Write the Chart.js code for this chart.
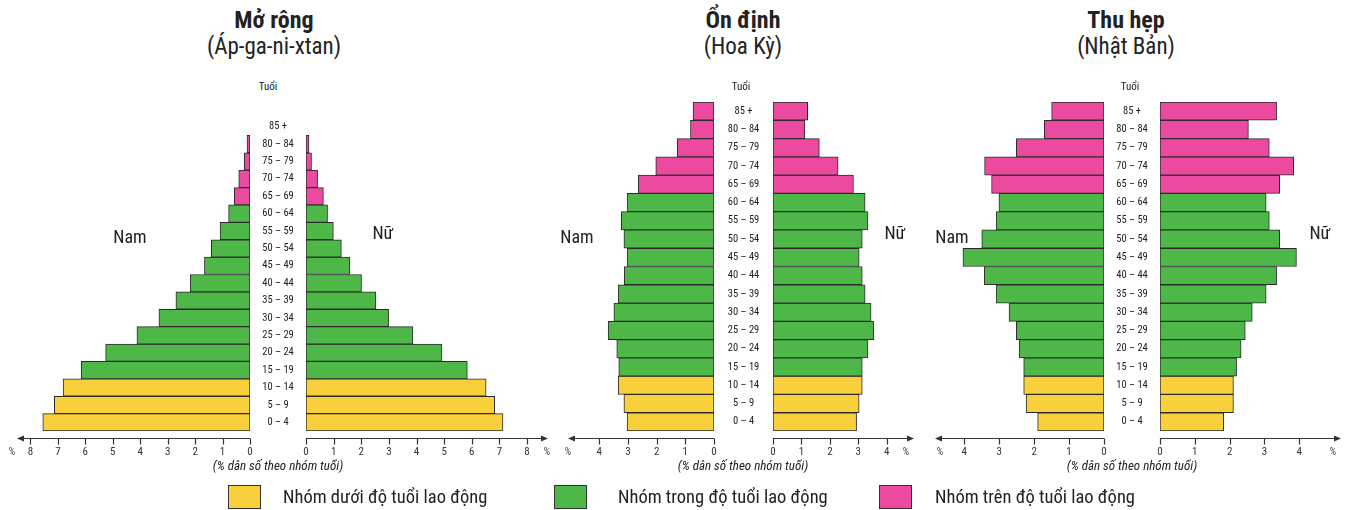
<!DOCTYPE html>
<html>
<head>
<meta charset="utf-8">
<script src="https://cdn.jsdelivr.net/npm/chart.js@4.4.1/dist/chart.umd.min.js"></script>
<style>
  html, body { margin: 0; padding: 0; background: #fff; }
  #wrap { position: relative; width: 1345px; height: 510px; overflow: hidden;
          font-family: 'Liberation Sans Narrow', 'Roboto Condensed', 'DejaVu Sans Condensed', 'Open Sans', sans-serif; color: #222; }
  canvas { position: absolute; }
  .t { position: absolute; white-space: nowrap; transform: translateX(-50%); line-height: 1; }
  .title { font-weight: bold; font-size: 24px; }
  .sub { font-size: 23px; }
  .small { font-size: 11px; }
  .side { font-size: 18px; transform: translate(-50%, -50%); }
  .note { font-size: 13px; font-style: italic; }
  .lbox { position: absolute; width: 33px; height: 24px; border: 1px solid #333; box-sizing: border-box; }
  .ltext { position: absolute; font-size: 18.5px; white-space: nowrap; line-height: 1; }
</style>
</head>
<body>
<div id="wrap"></div>
<script>
// ---------------- DATA ----------------
const ageGroups = ['0 – 4','5 – 9','10 – 14','15 – 19','20 – 24','25 – 29','30 – 34','35 – 39',
  '40 – 44','45 – 49','50 – 54','55 – 59','60 – 64','65 – 69','70 – 74','75 – 79','80 – 84','85 +'];
const groupNames = ['Nhóm dưới độ tuổi lao động','Nhóm trong độ tuổi lao động','Nhóm trên độ tuổi lao động'];
const groupOfAge = [0,0,0,1,1,1,1,1,1,1,1,1,1,2,2,2,2,2];

const pyramidTitles = ['Mở rộng','Ổn định','Thu hẹp'];
const pyramidCountries = ['(Áp-ga-ni-xtan)','(Hoa Kỳ)','(Nhật Bản)'];
const maleLabel = 'Nam';
const femaleLabel = 'Nữ';
const ageAxisTitle = 'Tuổi';
const valueAxisTitle = '(% dân số theo nhóm tuổi)';
const unitLabel = '%';

const afgMale   = [7.55,7.13,6.81,6.15,5.26,4.12,3.32,2.70,2.18,1.66,1.41,1.09,0.78,0.57,0.41,0.21,0.11,0];
const afgFemale = [7.13,6.83,6.52,5.84,4.92,3.87,2.99,2.53,2.01,1.59,1.28,0.99,0.78,0.63,0.42,0.20,0.11,0];
const usaMale   = [3.03,3.14,3.34,3.32,3.39,3.69,3.49,3.34,3.13,3.03,3.14,3.23,3.03,2.64,2.03,1.28,0.82,0.73];
const usaFemale = [2.94,3.03,3.14,3.14,3.34,3.54,3.45,3.24,3.14,3.03,3.14,3.34,3.24,2.83,2.29,1.63,1.12,1.22];
const jpnMale   = [1.90,2.23,2.30,2.30,2.43,2.51,2.72,3.09,3.43,4.04,3.50,3.09,3.01,3.22,3.42,2.51,1.71,1.50];
const jpnFemale = [1.83,2.11,2.11,2.20,2.33,2.45,2.65,3.05,3.35,3.92,3.44,3.14,3.05,3.44,3.84,3.14,2.54,3.35];
const tickMaxes = [8, 4, 4];

// ---------------- STYLE / LAYOUT ----------------
const groupColors = ['#F9CF3C', '#4DB848', '#EC4A9E'];
const borderColor = '#2b2b2b';
const fontFamily = "'Liberation Sans Narrow', 'Roboto Condensed', 'DejaVu Sans Condensed', sans-serif";
const tickFont = { family: fontFamily, size: 11 };
const ageFont = { family: fontFamily, size: 10.5 };

const layouts = [
  { top: 118, bottom: 431, mTip: 17,  mZero: 250,   fZero: 306,   fTip: 548,  mMax: 8.49, fMax: 8.76, mPct: -5, fPct: -1, cx: 274, tuoiX: 268, namX: 130, nuX: 383 },
  { top: 102, bottom: 431, mTip: 568, mZero: 713.5, fZero: 772.5, fTip: 913,  mMax: 5.09, fMax: 4.96, mPct: 0,  fPct: -8, cx: 743, tuoiX: 741, namX: 577, nuX: 895 },
  { top: 102, bottom: 431, mTip: 935, mZero: 1104,  fZero: 1160,  fTip: 1341, mMax: 4.84, fMax: 5.20, mPct: 5,  fPct: -8, cx: 1126, tuoiX: 1130, namX: 952, nuX: 1320 }
];
const seriesPairs = [[afgMale, afgFemale], [usaMale, usaFemale], [jpnMale, jpnFemale]];
const AXIS_H = 45, AXIS_GAP = 7;

const wrap = document.getElementById('wrap');

function addText(cls, text, x, y) {
  const d = document.createElement('div');
  d.className = 't ' + cls;
  d.textContent = text;
  d.style.left = x + 'px';
  d.style.top = y + 'px';
  wrap.appendChild(d);
  return d;
}

// measure widest age label for centering
const mctx = document.createElement('canvas').getContext('2d');
mctx.font = ageFont.size + 'px ' + ageFont.family;
const widestAge = Math.max(...ageGroups.map(s => mctx.measureText(s).width));

const axisDeco = {
  id: 'axisDeco',
  afterDraw(chart, args, o) {
    const xs = chart.scales.x;
    const ctx = chart.ctx;
    const y0 = chart.chartArea.bottom + AXIS_GAP + 0.5;
    const zp = xs.getPixelForValue(0);
    const ep = xs.getPixelForValue(xs.max);
    const dir = Math.sign(ep - zp);
    ctx.save();
    ctx.strokeStyle = '#333';
    ctx.fillStyle = '#333';
    ctx.lineWidth = 1.2;
    ctx.beginPath();
    ctx.moveTo(zp, y0); ctx.lineTo(ep - dir * 4, y0);
    ctx.stroke();
    ctx.beginPath();
    ctx.moveTo(ep, y0); ctx.lineTo(ep - dir * 7, y0 - 3); ctx.lineTo(ep - dir * 7, y0 + 3); ctx.closePath();
    ctx.fill();
    xs.ticks.forEach(t => {
      const px = Math.round(xs.getPixelForValue(t.value)) + 0.5;
      ctx.beginPath(); ctx.moveTo(px, y0); ctx.lineTo(px, y0 + 6); ctx.stroke();
    });
    ctx.font = '10px ' + fontFamily;
    ctx.textAlign = 'center';
    ctx.textBaseline = 'middle';
    ctx.fillStyle = '#444';
    ctx.fillText(unitLabel, ep + o.pct, y0 + 14);
    ctx.restore();
  }
};

function makeHalf(values, side, L, tickMax) {
  const isMale = side === 'm';
  const padL = isMale ? 16 : 10;
  const padR = isMale ? 0 : 16;
  const left = isMale ? L.mTip - padL : L.fZero - padL;
  const right = isMale ? L.fZero : L.fTip + padR;
  const cv = document.createElement('canvas');
  cv.width = Math.round(right - left);
  cv.height = Math.round(L.bottom - L.top + AXIS_H);
  cv.style.left = left + 'px';
  cv.style.top = L.top + 'px';
  cv.style.width = cv.width + 'px';
  cv.style.height = cv.height + 'px';
  wrap.appendChild(cv);
  const gap = L.fZero - L.mZero;
  new Chart(cv, {
    type: 'bar',
    data: {
      labels: ageGroups,
      datasets: [{
        data: values,
        backgroundColor: groupOfAge.map(g => groupColors[g]),
        borderColor: borderColor,
        borderWidth: 1,
        borderSkipped: false,
        barPercentage: 1,
        categoryPercentage: 1
      }]
    },
    options: {
      indexAxis: 'y',
      responsive: false,
      animation: false,
      devicePixelRatio: 1,
      layout: { padding: { left: padL, right: padR, top: 0, bottom: 0 } },
      plugins: { legend: { display: false }, tooltip: { enabled: false }, axisDeco: { pct: isMale ? L.mPct : L.fPct } },
      scales: {
        x: {
          type: 'linear',
          reverse: isMale,
          min: 0,
          max: isMale ? L.mMax : L.fMax,
          grid: { display: false, drawTicks: false, tickLength: 0 },
          border: { display: false },
          ticks: { stepSize: 1, includeBounds: false, padding: 15, font: tickFont, color: '#333', maxRotation: 0, autoSkip: false },
          afterBuildTicks: s => { s.ticks = s.ticks.filter(t => Number.isInteger(t.value) && t.value <= tickMax); },
          afterFit: s => { s.height = AXIS_H; s.paddingLeft = 0; s.paddingRight = 0; }
        },
        y: {
          type: 'category',
          reverse: true,
          offset: true,
          position: 'right',
          display: isMale,
          grid: { display: false, drawTicks: false, tickLength: 0 },
          border: { display: false },
          ticks: { font: ageFont, color: '#222', crossAlign: 'center', padding: Math.max(0, (gap - widestAge) / 2), autoSkip: false },
          afterFit: s => { s.width = isMale ? gap : 0; s.paddingTop = 0; s.paddingBottom = 0; }
        }
      }
    },
    plugins: [axisDeco]
  });
}

layouts.forEach((L, i) => {
  makeHalf(seriesPairs[i][0], 'm', L, tickMaxes[i]);
  makeHalf(seriesPairs[i][1], 'f', L, tickMaxes[i]);
  addText('title', pyramidTitles[i], L.cx, 8);
  addText('sub', pyramidCountries[i], L.cx, 35);
  addText('small', ageAxisTitle, L.tuoiX, 81);
  addText('side', maleLabel, L.namX, 237);
  addText('side', femaleLabel, L.nuX, 233);
  addText('note', valueAxisTitle, (L.mZero + L.fZero) / 2, 459);
});

// legend
const legendPos = [{ box: 228, text: 283 }, { box: 554, text: 618 }, { box: 879, text: 935 }];
groupNames.forEach((name, i) => {
  const b = document.createElement('div');
  b.className = 'lbox';
  b.style.left = legendPos[i].box + 'px';
  b.style.top = '485px';
  b.style.background = groupColors[i];
  wrap.appendChild(b);
  const t = document.createElement('div');
  t.className = 'ltext';
  t.textContent = name;
  t.style.left = legendPos[i].text + 'px';
  t.style.top = '488px';
  wrap.appendChild(t);
});
</script>
</body>
</html>
